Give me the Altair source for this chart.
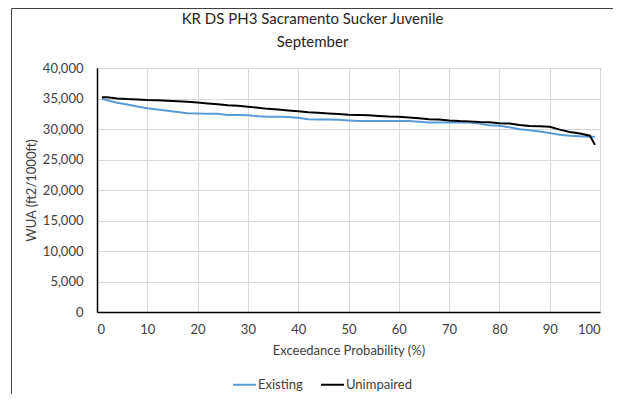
import altair as alt
import pandas as pd

prob = [1, 2, 4, 6, 8, 10, 12, 14, 16, 18, 20, 22, 24, 26, 28, 30, 32, 34, 36, 38, 40,
        42, 44, 46, 48, 50, 52, 54, 56, 58, 60, 62, 64, 66, 68, 70, 72, 74, 76, 78, 80,
        82, 84, 86, 88, 90, 92, 94, 96, 98, 99]

existing = [35000, 34700, 34300, 34000, 33700, 33400, 33200, 33000, 32800, 32600, 32550,
            32500, 32500, 32300, 32300, 32250, 32100, 32000, 32000, 31950, 31850,
            31600, 31550, 31550, 31500, 31400, 31300, 31300, 31300, 31300, 31300,
            31300, 31200, 31050, 31050, 31050, 31050, 31050, 30900, 30600, 30550,
            30300, 29950, 29800, 29600, 29350, 29050, 28900, 28800, 28750, 28750]

unimpaired = [35200, 35200, 35000, 34900, 34850, 34750, 34700, 34650, 34550, 34450, 34350,
              34200, 34050, 33900, 33800, 33650, 33500, 33300, 33200, 33050, 32900,
              32750, 32650, 32550, 32450, 32350, 32300, 32250, 32150, 32050, 32000,
              31900, 31750, 31600, 31550, 31400, 31300, 31250, 31150, 31100, 30950,
              30900, 30650, 30500, 30450, 30350, 29900, 29500, 29250, 28900, 27400]

series_names = ["Existing", "Unimpaired"]
series_colors = ["#5B9BD5", "#000000"]

rows = []
for p, v in zip(prob, existing):
    rows.append({"prob": p, "wua": v, "series": "Existing"})
for p, v in zip(prob, unimpaired):
    rows.append({"prob": p, "wua": v, "series": "Unimpaired"})
df = pd.DataFrame(rows)

FONT = "Lato"

lines = alt.Chart(df).mark_line(strokeWidth=2).encode(
    x=alt.X("prob:Q",
            scale=alt.Scale(domain=[0, 100], nice=False),
            axis=alt.Axis(title="Exceedance Probability (%)", values=list(range(0, 101, 10)),
                          format=".0f", labelPadding=11, titlePadding=8)),
    y=alt.Y("wua:Q",
            scale=alt.Scale(domain=[0, 40000], nice=False),
            axis=alt.Axis(title="WUA (ft2/1000ft)", values=list(range(0, 40001, 5000)),
                          format=",.0f", labelPadding=14, titlePadding=4)),
    color=alt.Color("series:N",
                    scale=alt.Scale(domain=series_names, range=series_colors),
                    legend=alt.Legend(title=None, orient="none", direction="horizontal",
                                      legendX=135, legendY=304,
                                      symbolType="stroke", symbolSize=529,
                                      symbolStrokeWidth=2, columnPadding=14,
                                      labelOffset=1, labelFontSize=13,
                                      labelColor="#404040", labelFont=FONT)),
)

border = alt.Chart(pd.DataFrame({"a": [0]})).mark_rect(
    fillOpacity=0, stroke="#404040", strokeWidth=1
).encode(
    x=alt.value(-85.5), x2=alt.value(700), y=alt.value(-59.5), y2=alt.value(500)
)

chart = alt.layer(lines, border).properties(
    width=503,
    height=244,
    autosize=alt.AutoSizeParams(type="none"),
    padding={"left": 89, "top": 60, "right": 13, "bottom": 82},
    title=alt.Title(["KR DS PH3 Sacramento Sucker Juvenile", "September"],
                    anchor="middle", frame="group", dx=-36, offset=-42,
                    fontSize=15, fontWeight="normal", lineHeight=23,
                    font=FONT, color="#262626"),
).configure_view(
    stroke="#404040", strokeWidth=1
).configure_axis(
    labelFont=FONT, titleFont=FONT, labelFontSize=13, titleFontSize=13,
    labelColor="#404040", titleColor="#404040", titleFontWeight="normal",
    ticks=False, domainColor="#000000", domainWidth=1.5,
    gridColor="#D9D9D9", gridWidth=1,
)

chart.save("out.html", embed_options={"renderer": "svg", "actions": False})
